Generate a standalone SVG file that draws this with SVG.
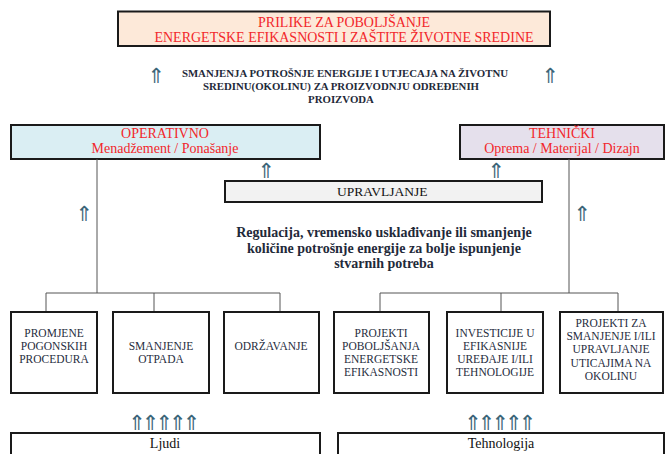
<svg xmlns="http://www.w3.org/2000/svg" width="665" height="454" viewBox="0 0 665 454">
<style>
.box{stroke:#1a1a1a;stroke-width:2;}
.red{font-family:"Liberation Serif","Times New Roman",serif;font-size:14px;fill:#f2272b;text-anchor:middle;}
.bt{font-family:"Liberation Serif","Times New Roman",serif;font-weight:bold;fill:#1f2a3a;text-anchor:middle;}
.st{font-family:"Liberation Serif","Times New Roman",serif;font-size:11.5px;fill:#1f2d40;text-anchor:middle;}
.lb{font-family:"Liberation Serif","Times New Roman",serif;font-size:14px;fill:#111;text-anchor:middle;}
.ar{font-family:"DejaVu Sans",sans-serif;font-size:21px;fill:#3a6478;text-anchor:middle;}
.ars{font-family:"DejaVu Sans",sans-serif;font-size:21px;fill:#3a6478;}
.ln{stroke:#555;stroke-width:1;fill:none;}
</style>
<rect width="665" height="454" fill="#ffffff"/>
<g id="title">
<rect class="box" x="118" y="11.5" width="432" height="34.5" fill="#fde9d9"/>
<text class="red" x="344" y="27">PRILIKE ZA POBOLJŠANJE</text>
<text class="red" x="344" y="42">ENERGETSKE EFIKASNOSTI I ZAŠTITE ŽIVOTNE SREDINE</text>
</g>
<g id="goal">
<text class="bt" font-size="10.8" x="345" y="77">SMANJENJA POTROŠNJE ENERGIJE I UTJECAJA NA ŽIVOTNU</text>
<text class="bt" font-size="10.8" x="341" y="90">SREDINU(OKOLINU) ZA PROIZVODNJU ODREĐENIH</text>
<text class="bt" font-size="10.8" x="341" y="103">PROIZVODA</text>
</g>
<g id="operativno">
<rect class="box" x="11" y="125" width="309" height="34" fill="#daeef3"/>
<text class="red" x="165" y="138">OPERATIVNO</text>
<text class="red" x="165" y="153">Menadžement / Ponašanje</text>
</g>
<g id="tehnicki">
<rect class="box" x="460" y="125" width="204" height="34" fill="#e5e0ec"/>
<text class="red" x="562" y="138">TEHNIČKI</text>
<text class="red" x="562" y="153">Oprema / Materijal / Dizajn</text>
</g>
<g id="upravljanje">
<rect class="box" x="225" y="181" width="317" height="21" fill="#f2f2f2"/>
<text font-family="Liberation Serif, serif" font-size="13.5" fill="#111" x="337" y="196">UPRAVLJANJE</text>
</g>
<g id="regulacija">
<text class="bt" font-size="14" x="384" y="237">Regulacija, vremensko usklađivanje ili smanjenje</text>
<text class="bt" font-size="14" x="384" y="252.5">količine potrošnje energije za bolje ispunjenje</text>
<text class="bt" font-size="14" x="384" y="268">stvarnih potreba</text>
</g>
<g id="connectors">
<path class="ln" d="M97 159V293M46 293H280M46 293V312M154 293V312M280 293V312"/>
<path class="ln" d="M569 159V293M380 293H618M380 293V312M501 293V312M618 293V312"/>
<text class="ar" x="156" y="83">⇑</text>
<text class="ar" x="550" y="83">⇑</text>
<text class="ar" x="266" y="178">⇑</text>
<text class="ar" x="496" y="178" fill="#7a4a4a">⇑</text>
<text class="ar" x="84" y="221">⇑</text>
<text class="ar" x="582" y="221">⇑</text>
<text class="ars" x="128" y="430" textLength="72" lengthAdjust="spacing">⇑⇑⇑⇑⇑</text>
<text class="ars" x="464" y="430" textLength="72" lengthAdjust="spacing">⇑⇑⇑⇑⇑</text>
</g>
<g id="promjene">
<rect class="box" x="11" y="312" width="86" height="81" fill="#fff"/>
<text class="st" x="54" y="337">PROMJENE</text>
<text class="st" x="54" y="350">POGONSKIH</text>
<text class="st" x="54" y="363">PROCEDURA</text>
</g>
<g id="smanjenje">
<rect class="box" x="113" y="312" width="96" height="81" fill="#fff"/>
<text class="st" x="161" y="350">SMANJENJE</text>
<text class="st" x="161" y="363">OTPADA</text>
</g>
<g id="odrzavanje">
<rect class="box" x="224" y="312" width="95" height="81" fill="#fff"/>
<text class="st" x="271" y="350">ODRŽAVANJE</text>
</g>
<g id="projekti">
<rect class="box" x="334" y="312" width="95" height="81" fill="#fff"/>
<text class="st" x="381" y="337">PROJEKTI</text>
<text class="st" x="381" y="350">POBOLJŠANJA</text>
<text class="st" x="381" y="363">ENERGETSKE</text>
<text class="st" x="381" y="376">EFIKASNOSTI</text>
</g>
<g id="investicije">
<rect class="box" x="447" y="312" width="96" height="81" fill="#fff"/>
<text class="st" x="495" y="337">INVESTICIJE U</text>
<text class="st" x="495" y="350">EFIKASNIJE</text>
<text class="st" x="495" y="363">UREĐAJE I/ILI</text>
<text class="st" x="495" y="376">TEHNOLOGIJE</text>
</g>
<g id="projekti-okolina">
<rect class="box" x="560" y="312" width="103" height="81" fill="#fff"/>
<text class="st" x="611" y="327">PROJEKTI ZA</text>
<text class="st" x="611" y="340">SMANJENJE I/ILI</text>
<text class="st" x="611" y="353">UPRAVLJANJE</text>
<text class="st" x="611" y="367">UTICAJIMA NA</text>
<text class="st" x="611" y="380">OKOLINU</text>
</g>
<g id="ljudi">
<rect class="box" x="11" y="433" width="309" height="30" fill="#fff"/>
<text class="lb" x="165" y="448">Ljudi</text>
</g>
<g id="tehnologija">
<rect class="box" x="338" y="433" width="326" height="30" fill="#fff"/>
<text class="lb" x="501" y="448">Tehnologija</text>
</g>
</svg>
